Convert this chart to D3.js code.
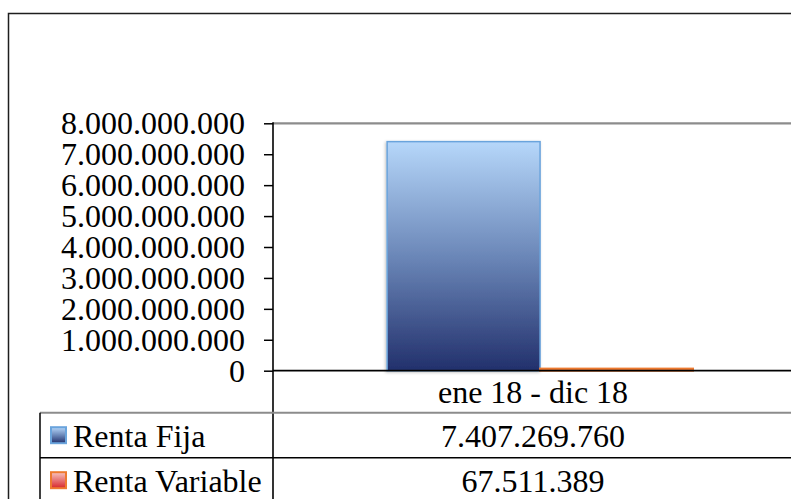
<!DOCTYPE html>
<html><head><meta charset="utf-8">
<script src="https://cdn.jsdelivr.net/npm/d3@7"></script>
<style>
html,body{margin:0;padding:0;background:#fff;}
svg{display:block;}
text{font-family:"Liberation Serif","Times New Roman",serif;fill:#000;}
</style></head>
<body>
<script>
// ---- data ----
const categories = ["ene 18 - dic 18"];
const seriesNames = ["Renta Fija", "Renta Variable"];
const rentaFija = [7407269760];
const rentaVariable = [67511389];
const yTicks = [0,1000000000,2000000000,3000000000,4000000000,5000000000,6000000000,7000000000,8000000000];

const W = 791, H = 499;
const svg = d3.select("body").append("svg").attr("width", W).attr("height", H);

const locale = d3.formatLocale({decimal: ",", thousands: ".", grouping: [3], currency: ["$", ""]});
const fmt = locale.format(",d");

const defs = svg.append("defs");
const gBlue = defs.append("linearGradient").attr("id","gBlue").attr("x1",0).attr("y1",0).attr("x2",0).attr("y2",1);
gBlue.append("stop").attr("offset","0%").attr("stop-color","#b6d7fa");
gBlue.append("stop").attr("offset","50%").attr("stop-color","#6b87b8");
gBlue.append("stop").attr("offset","100%").attr("stop-color","#22306c");
const gRed = defs.append("linearGradient").attr("id","gRed").attr("x1",0).attr("y1",0).attr("x2",0).attr("y2",1);
gRed.append("stop").attr("offset","0%").attr("stop-color","#f7c4c0");
gRed.append("stop").attr("offset","100%").attr("stop-color","#d7262a");
const shadow = defs.append("filter").attr("id","sh").attr("x","-10%").attr("y","-10%").attr("width","130%").attr("height","130%");
shadow.append("feDropShadow").attr("dx",-1).attr("dy",1).attr("stdDeviation",1.5).attr("flood-color","#000").attr("flood-opacity",0.25);

const fills = ["url(#gBlue)", "url(#gRed)"];
const strokes = ["#6aa4dc", "#ee7a30"];
const values = [rentaFija, rentaVariable];

const plotLeft = 273, plotRight = 793, plotTop = 123.3, plotBottom = 370.7;

const y = d3.scaleLinear().domain([0, 8000000000]).range([plotBottom, plotTop]);
const x0 = d3.scaleBand().domain(categories).range([plotLeft, plotRight]).padding(0);
const x1 = d3.scaleBand().domain(seriesNames).range([0, x0.bandwidth()])
  .paddingInner(0).paddingOuter(0.7).align(0.533);

// outer chart border
svg.append("path").attr("d", `M8.5,${H+5} V13.5 H${W+5}`)
  .attr("fill","none").attr("stroke","#1e1e1e").attr("stroke-width",1.5);

// plot top border (gray)
svg.append("line").attr("x1",plotLeft).attr("x2",W+5).attr("y1",plotTop).attr("y2",plotTop)
  .attr("stroke","#8c8c8c").attr("stroke-width",2.2);

// bars
categories.forEach((c, ci) => {
  seriesNames.forEach((s, si) => {
    const v = values[si][ci];
    const bx = x0(c) + x1(s);
    const by = y(v);
    svg.append("rect")
      .attr("x", bx).attr("y", by)
      .attr("width", x1.bandwidth()).attr("height", Math.max(0, y(0) - by))
      .attr("fill", fills[si]).attr("stroke", strokes[si]).attr("stroke-width", si === 0 ? 1.5 : 2)
      .attr("filter", si === 0 ? "url(#sh)" : null);
  });
});

// y axis
const yAxis = d3.axisLeft(y).tickValues(yTicks).tickSize(9).tickSizeOuter(0).tickPadding(19)
  .tickFormat(d => fmt(d));
const ga = svg.append("g").attr("transform", `translate(${plotLeft},0)`).call(yAxis);
ga.select(".domain").remove();
ga.selectAll(".tick line").attr("stroke","#000").attr("stroke-width",1.5);
ga.selectAll(".tick text").attr("font-size", 32).attr("dy","0.33em")
  .style("font-family","'Liberation Serif', serif").attr("fill","#000");

// y axis line extending into data table
svg.append("line").attr("x1",plotLeft).attr("x2",plotLeft).attr("y1",plotTop - 1).attr("y2",H+5)
  .attr("stroke","#000").attr("stroke-width",1.6);

// zero baseline
svg.append("line").attr("x1",plotLeft).attr("x2",W+5).attr("y1",y(0)).attr("y2",y(0))
  .attr("stroke","#000").attr("stroke-width",1.8);

// category label
svg.selectAll(".cat").data(categories).enter().append("text")
  .attr("x", d => x0(d) + x0.bandwidth()/2).attr("y", 402.5)
  .attr("text-anchor","middle").attr("font-size",32).text(d => d);

// data table
const tableTop = 412.7, rowH = 45, tableLeft = 40;
svg.append("line").attr("x1",tableLeft).attr("x2",W+5).attr("y1",tableTop).attr("y2",tableTop)
  .attr("stroke","#8c8c8c").attr("stroke-width",2);
svg.append("line").attr("x1",tableLeft).attr("x2",tableLeft).attr("y1",tableTop).attr("y2",H+5)
  .attr("stroke","#000").attr("stroke-width",1.5);
svg.append("line").attr("x1",tableLeft).attr("x2",W+5).attr("y1",tableTop+rowH).attr("y2",tableTop+rowH)
  .attr("stroke","#000").attr("stroke-width",1.5);

seriesNames.forEach((s, si) => {
  const rowMid = tableTop + rowH*si + rowH/2;
  svg.append("rect").attr("x",51).attr("y",rowMid - 8).attr("width",15).attr("height",16)
    .attr("fill",fills[si]).attr("stroke",strokes[si]).attr("stroke-width",2);
  svg.append("text").attr("x",73).attr("y",rowMid + 11.5).attr("font-size",32).text(s);
  categories.forEach((c, ci) => {
    svg.append("text").attr("x", x0(c) + x0.bandwidth()/2).attr("y", rowMid + 11.5)
      .attr("text-anchor","middle").attr("font-size",32).text(fmt(values[si][ci]));
  });
});
</script>
</body></html>
